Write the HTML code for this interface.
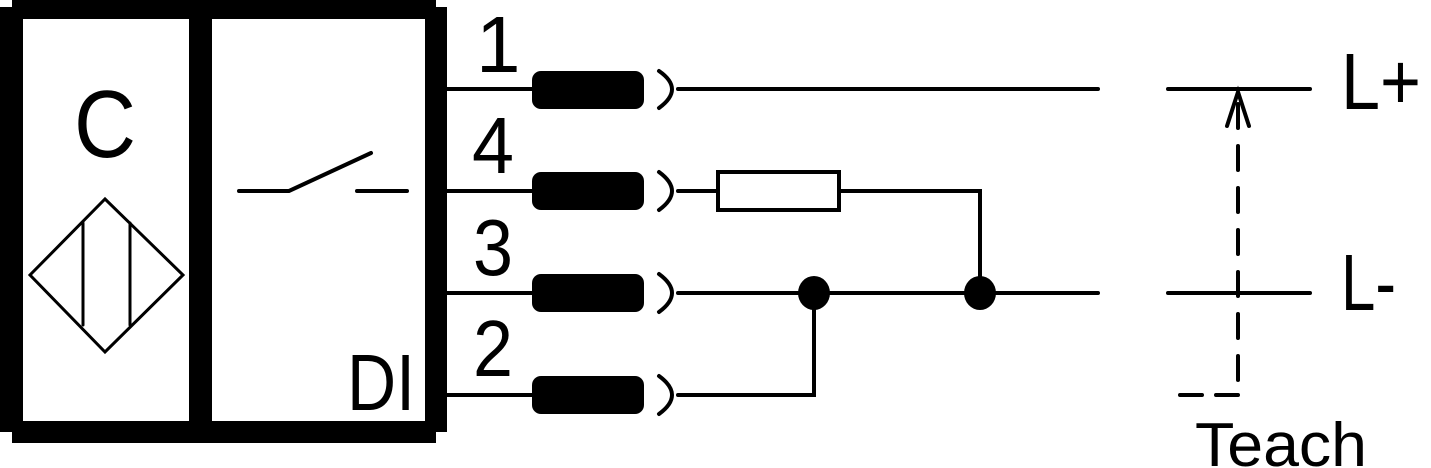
<!DOCTYPE html>
<html><head><meta charset="utf-8"><style>
html,body{margin:0;padding:0;background:#fff;overflow:hidden}
svg{display:block}
text{font-family:"Liberation Sans",Arial,sans-serif;fill:#000}
</style></head><body>
<svg width="1431" height="468" viewBox="0 0 1431 468" xmlns="http://www.w3.org/2000/svg">
<g fill="#000">
<rect x="12" y="0" width="424" height="19"/>
<rect x="12" y="421" width="424" height="22"/>
<rect x="0" y="7" width="23" height="425"/>
<rect x="189" y="0" width="23" height="443"/>
<rect x="425" y="7" width="22" height="425"/>
<rect x="532" y="71" width="112" height="38" rx="9"/>
<rect x="532" y="172" width="112" height="38" rx="9"/>
<rect x="532" y="274" width="112" height="38" rx="9"/>
<rect x="532" y="376" width="112" height="38" rx="9"/>
<ellipse cx="814" cy="293" rx="16" ry="17"/>
<ellipse cx="980" cy="293" rx="16" ry="17"/>
</g>
<g fill="none" stroke="#000" stroke-width="4" stroke-linecap="round">
<polygon points="105,199 183,275 105,352 30,275" stroke-width="3"/>
<line x1="83" y1="223" x2="83" y2="325" stroke-width="3"/>
<line x1="130" y1="223" x2="130" y2="325" stroke-width="3"/>
<polyline points="239,191 289,191 371,153"/>
<line x1="357" y1="191" x2="407" y2="191"/>
<line x1="447" y1="89" x2="532" y2="89"/>
<line x1="447" y1="191" x2="532" y2="191"/>
<line x1="447" y1="293" x2="532" y2="293"/>
<line x1="447" y1="395" x2="532" y2="395"/>
<path d="M659 71 Q685 89 659 108"/>
<path d="M659 172 Q685 191 659 210"/>
<path d="M659 274 Q685 293 659 312"/>
<path d="M659 376 Q685 395 659 414"/>
<line x1="678" y1="89" x2="1098" y2="89"/>
<line x1="1168" y1="89" x2="1310" y2="89"/>
<line x1="678" y1="191" x2="718" y2="191"/>
<rect x="718" y="172" width="121" height="38" stroke-width="4"/>
<polyline points="839,191 980,191 980,293"/>
<line x1="678" y1="293" x2="1098" y2="293"/>
<line x1="1168" y1="293" x2="1310" y2="293"/>
<polyline points="678,395 814,395 814,293"/>
<polyline points="1227,126 1238,92 1249,126"/>
<line x1="1238" y1="94" x2="1238" y2="395" stroke-dasharray="24,18" stroke-dashoffset="-10"/>
<line x1="1238" y1="395" x2="1168" y2="395" stroke-dasharray="22,14"/>
</g>
<text x="74" y="157" font-size="96" textLength="62" lengthAdjust="spacingAndGlyphs">C</text>
<text x="347" y="410" font-size="80" textLength="68" lengthAdjust="spacingAndGlyphs">DI</text>
<text x="476" y="72" font-size="80">1</text>
<text x="472" y="173" font-size="80" textLength="42" lengthAdjust="spacingAndGlyphs">4</text>
<text x="473" y="275" font-size="80" textLength="40" lengthAdjust="spacingAndGlyphs">3</text>
<text x="473" y="376" font-size="80" textLength="40" lengthAdjust="spacingAndGlyphs">2</text>
<text x="1341" y="109" font-size="80" textLength="80" lengthAdjust="spacingAndGlyphs">L+</text>
<text x="1341" y="310" font-size="80" textLength="55" lengthAdjust="spacingAndGlyphs">L-</text>
<text x="1195" y="466" font-size="62" textLength="172" lengthAdjust="spacingAndGlyphs">Teach</text>
</svg>
</body></html>
